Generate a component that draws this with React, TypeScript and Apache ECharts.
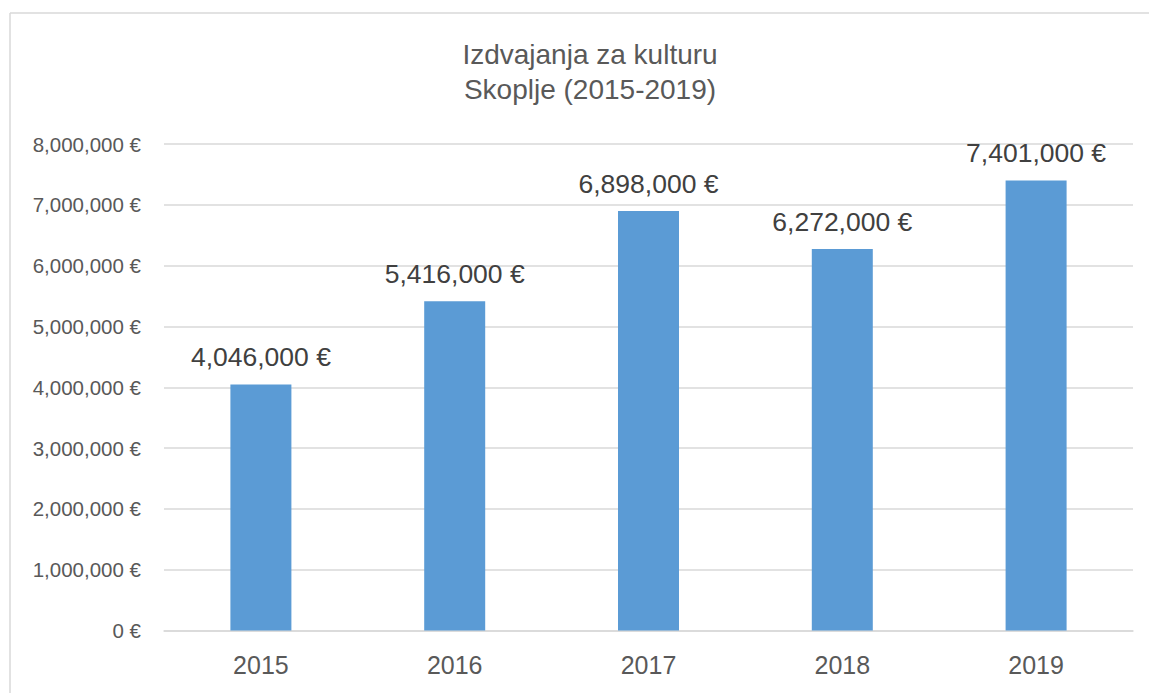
import React, { useEffect, useRef } from "react";
import * as echarts from "echarts";

const categories = ["2015", "2016", "2017", "2018", "2019"];
const values = [4046000, 5416000, 6898000, 6272000, 7401000];
const titleLines = ["Izdvajanja za kulturu", "Skoplje (2015-2019)"];
const yMax = 8000000;
const yInterval = 1000000;

const FONT = "'Liberation Sans', Arial, sans-serif";
const TEXT = "#595959";

const fmt = (v: number) => (v === 0 ? "0 €" : v.toLocaleString("en-US") + " €");

export default function App() {
  const ref = useRef<HTMLDivElement>(null);
  useEffect(() => {
    if (!ref.current) return;
    const chart = echarts.init(ref.current, undefined, { renderer: "svg" });
    chart.setOption({
      animation: false,
      backgroundColor: "#ffffff",
      textStyle: { fontFamily: FONT },
      title: {
        text: titleLines.join("\n"),
        left: 585,
        top: 32,
        textAlign: "center",
        textStyle: {
          fontFamily: FONT,
          fontSize: 28,
          fontWeight: "normal",
          color: TEXT,
          lineHeight: 35,
        },
      },
      grid: { left: 164, right: 16, top: 144, bottom: 62.5, containLabel: false },
      xAxis: {
        type: "category",
        data: categories,
        axisLine: { show: true, lineStyle: { color: "#d9d9d9", width: 1.5 } },
        axisTick: { show: false },
        axisLabel: { color: TEXT, fontSize: 25, margin: 22, fontFamily: FONT },
      },
      yAxis: {
        type: "value",
        min: 0,
        max: yMax,
        interval: yInterval,
        axisLine: { show: false },
        axisTick: { show: false },
        splitLine: { lineStyle: { color: "#d9d9d9", width: 1.5 } },
        axisLabel: {
          color: TEXT,
          fontSize: 20.5,
          margin: 23,
          fontFamily: FONT,
          formatter: (v: number) => fmt(v),
        },
      },
      series: [
        {
          type: "bar",
          data: values,
          barWidth: 61,
          itemStyle: { color: "#5b9bd5" },
          label: {
            show: true,
            position: "top",
            distance: 14,
            color: "#404040",
            fontSize: 26.5,
            fontFamily: FONT,
            formatter: (p: any) => fmt(p.value),
          },
        },
      ],
      graphic: [
        {
          type: "line",
          shape: { x1: 10, y1: 13, x2: 1149, y2: 13 },
          style: { stroke: "#d9d9d9", lineWidth: 1.5 },
          silent: true,
        },
        {
          type: "line",
          shape: { x1: 10, y1: 13, x2: 10, y2: 693 },
          style: { stroke: "#d9d9d9", lineWidth: 1.5 },
          silent: true,
        },
      ],
    });
    return () => chart.dispose();
  }, []);
  return (
    <div
      ref={ref}
      style={{ position: "fixed", left: 0, top: 0, width: 1149, height: 693 }}
    />
  );
}
